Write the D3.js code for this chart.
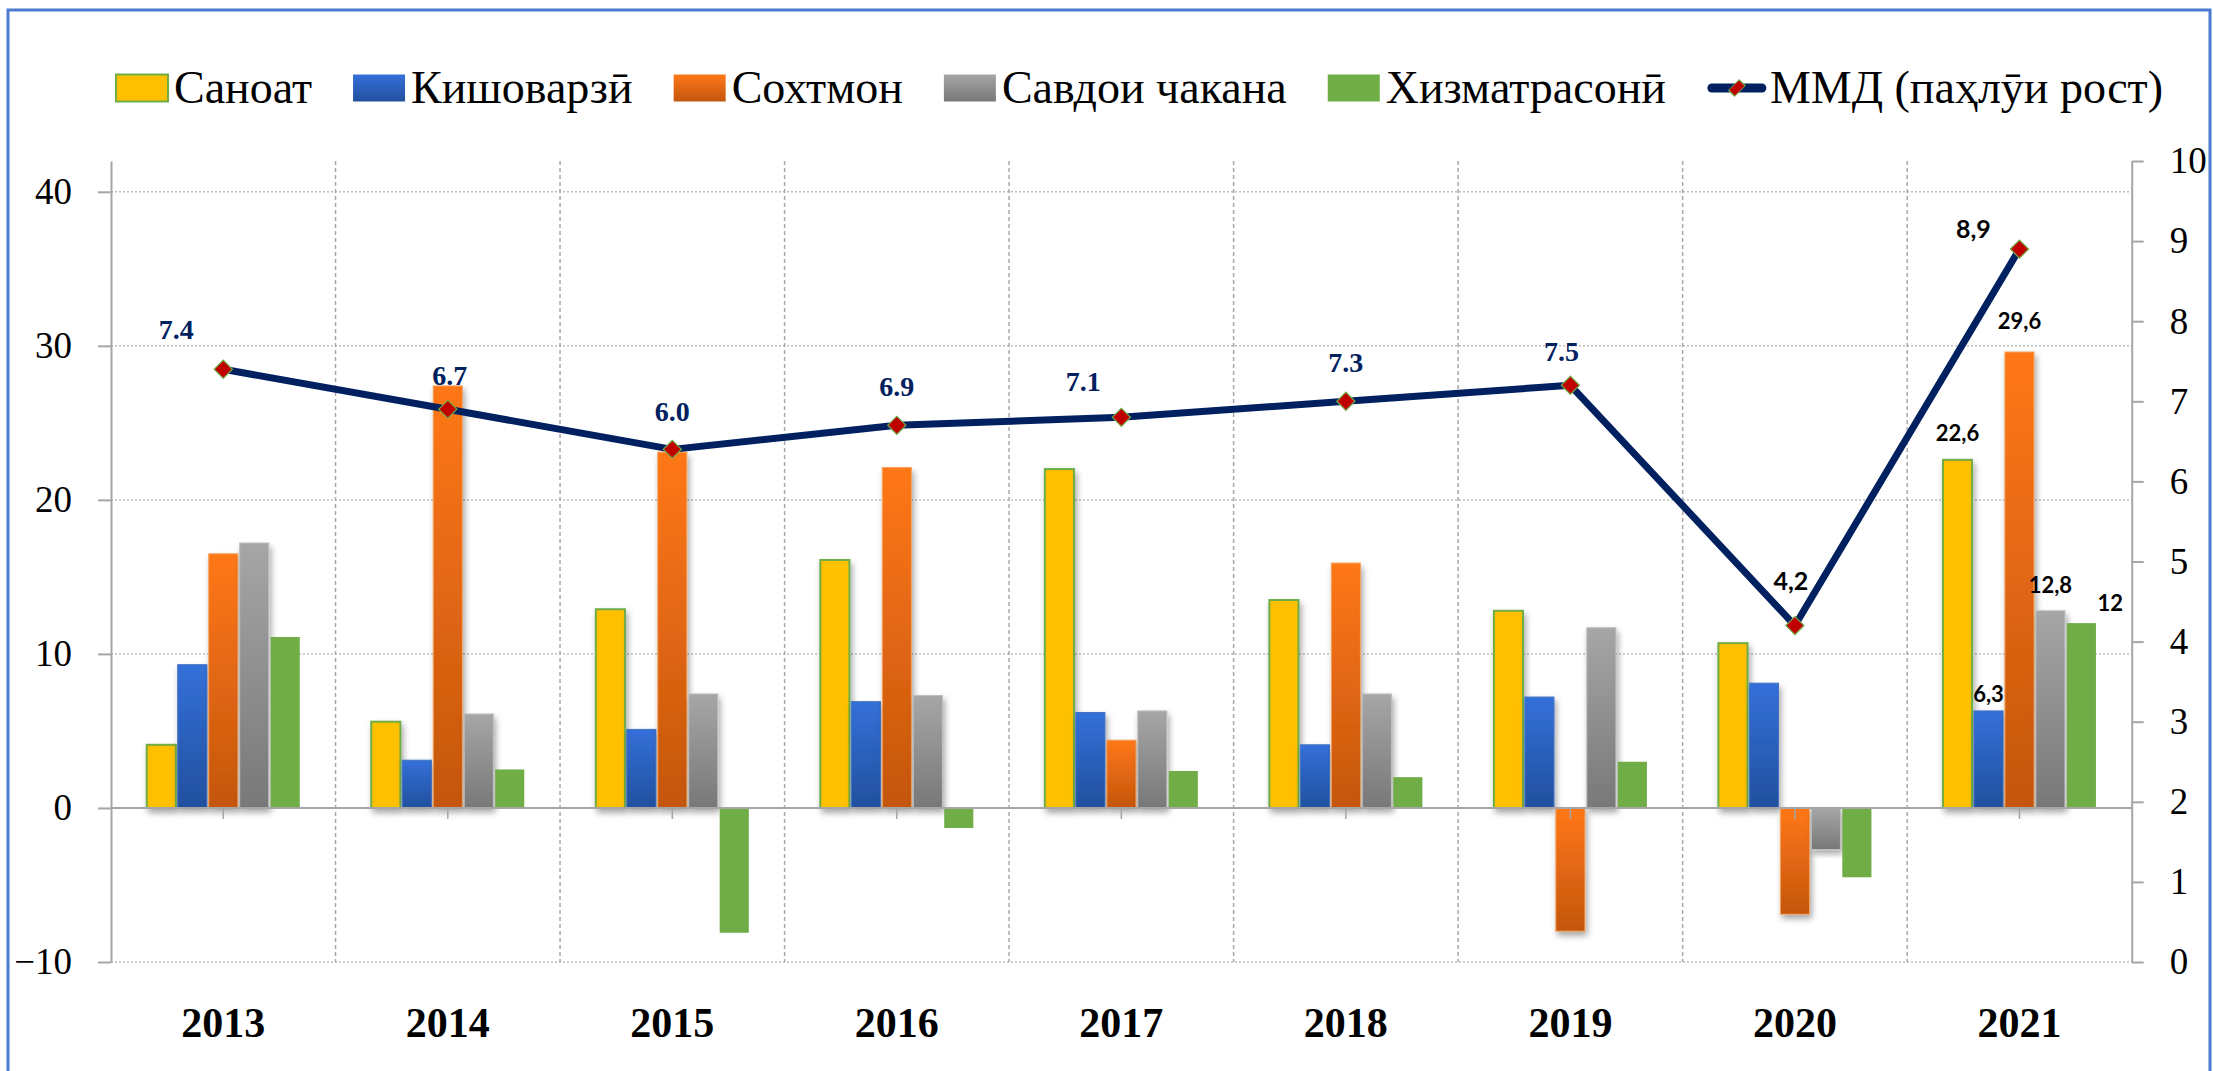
<!DOCTYPE html>
<html>
<head>
<meta charset="utf-8">
<script src="https://cdn.jsdelivr.net/npm/d3@7"></script>
<style>
  html, body { margin: 0; padding: 0; background: #fff; }
  svg { display: block; }
</style>
</head>
<body>
<div id="chart"></div>
<script>
// chart data
var years = ["2013", "2014", "2015", "2016", "2017", "2018", "2019", "2020", "2021"];
var seriesNames = ["Саноат", "Кишоварзӣ", "Сохтмон", "Савдои чакана", "Хизматрасонӣ"];
var industry     = [4.1, 5.6, 12.9, 16.1, 22.0, 13.5, 12.8, 10.7, 22.6];
var agriculture  = [9.3, 3.1, 5.1, 6.9, 6.2, 4.1, 7.2, 8.1, 6.3];
var construction = [16.5, 27.4, 23.1, 22.1, 4.4, 15.9, -8.0, -6.9, 29.6];
var retail       = [17.2, 6.1, 7.4, 7.3, 6.3, 7.4, 11.7, -2.7, 12.8];
var services     = [11.1, 2.5, -8.1, -1.3, 2.4, 2.0, 3.0, -4.5, 12.0];
var gdpName = "ММД (паҳлӯи рост)";
var gdp       = [7.4, 6.9, 6.4, 6.7, 6.8, 7.0, 7.2, 4.2, 8.9];
var gdpLabels = ["7.4", "6.7", "6.0", "6.9", "7.1", "7.3", "7.5", "4,2", "8,9"];
var lastYearLabels = ["22,6", "6,3", "29,6", "12,8", "12"];
var leftTicks = [-10, 0, 10, 20, 30, 40];
var rightTicks = [0, 1, 2, 3, 4, 5, 6, 7, 8, 9, 10];

var barSeries = [industry, agriculture, construction, retail, services];

// layout
var W = 2213, H = 1071;
var plotLeft = 111, plotRight = 2131.7, plotTop = 161, plotBottom = 962;
var groupWidth = 153;

// label nudges for the line (dx, dy from the marker), and for the 2021 bar labels
var gdpLabelNudge = [[-47, -40], [2, -34], [0, -38], [0, -39], [-38, -36], [0, -39], [-9, -34], [-4, -44], [-46, -20]];
var lastYearNudge = [[0, -27], [0, -17], [0, -31], [0, -25], [29, -20]];

var fills = ["#FFC000", "url(#gBlue)", "url(#gOrange)", "url(#gGray)", "#70AD47"];
var strokes = ["#70AD47", "#4472C4", "#F4A460", "#BFBFBF", "none"];

var svg = d3.select("#chart").append("svg")
    .attr("width", W)
    .attr("height", H);

var defs = svg.append("defs");

function addGradient(id, top, bottom) {
  var g = defs.append("linearGradient")
      .attr("id", id)
      .attr("x1", 0).attr("y1", 0)
      .attr("x2", 0).attr("y2", 1);
  g.append("stop").attr("offset", "0%").attr("stop-color", top);
  g.append("stop").attr("offset", "100%").attr("stop-color", bottom);
}
addGradient("gBlue", "#3370D9", "#22509E");
addGradient("gOrange", "#FF7719", "#C4560D");
addGradient("gGray", "#A6A6A6", "#787878");

var shadow = defs.append("filter")
    .attr("id", "shadow")
    .attr("x", "-30%").attr("y", "-10%")
    .attr("width", "170%").attr("height", "130%");
shadow.append("feDropShadow")
    .attr("dx", 2).attr("dy", 4)
    .attr("stdDeviation", 3)
    .attr("flood-color", "#000")
    .attr("flood-opacity", 0.35);

svg.append("rect")
    .attr("x", 0).attr("y", 0)
    .attr("width", W).attr("height", H)
    .attr("fill", "#fff");

// outer border
svg.append("rect")
    .attr("x", 8).attr("y", 10)
    .attr("width", 2202).attr("height", 1120)
    .attr("fill", "none")
    .attr("stroke", "#4A7BD0")
    .attr("stroke-width", 3);

var x0 = d3.scaleBand().domain(years).range([plotLeft, plotRight]).padding(0);
var x1 = d3.scaleBand().domain(d3.range(seriesNames.length)).range([0, groupWidth]).paddingInner(0.06);
var yLeft = d3.scaleLinear().domain([-10, 42]).range([plotBottom, plotTop]);
var yRight = d3.scaleLinear().domain([0, 10]).range([plotBottom, plotTop]);

var groupOffset = (x0.bandwidth() - groupWidth) / 2;
function center(yr) { return x0(yr) + x0.bandwidth() / 2; }

// horizontal grid
svg.append("g").selectAll("line")
    .data(leftTicks)
    .enter().append("line")
    .attr("x1", plotLeft).attr("x2", plotRight)
    .attr("y1", function(d) { return yLeft(d); })
    .attr("y2", function(d) { return yLeft(d); })
    .attr("stroke", "#BDBDBD")
    .attr("stroke-width", 1.5)
    .attr("stroke-dasharray", "2,2");

// vertical grid between categories
svg.append("g").selectAll("line")
    .data(years.slice(1))
    .enter().append("line")
    .attr("x1", function(d) { return x0(d); })
    .attr("x2", function(d) { return x0(d); })
    .attr("y1", plotTop).attr("y2", plotBottom)
    .attr("stroke", "#A8A8A8")
    .attr("stroke-width", 1.5)
    .attr("stroke-dasharray", "4,3");

// bars
var groups = svg.append("g").selectAll("g")
    .data(years)
    .enter().append("g")
    .attr("transform", function(d) { return "translate(" + (x0(d) + groupOffset) + ",0)"; });

groups.selectAll("rect")
    .data(function(d, i) {
      return barSeries.map(function(s, k) { return { k: k, v: s[i] }; });
    })
    .enter().append("rect")
    .attr("x", function(d) { return x1(d.k); })
    .attr("y", function(d) { return yLeft(Math.max(0, d.v)); })
    .attr("width", x1.bandwidth())
    .attr("height", function(d) { return Math.abs(yLeft(d.v) - yLeft(0)); })
    .attr("fill", function(d) { return fills[d.k]; })
    .attr("stroke", function(d) { return strokes[d.k]; })
    .attr("stroke-width", function(d) { return d.k == 0 ? 2 : 1; })
    .attr("filter", function(d) { return d.k == 4 ? null : "url(#shadow)"; });

// zero line (category axis)
svg.append("line")
    .attr("x1", plotLeft).attr("x2", plotRight)
    .attr("y1", yLeft(0)).attr("y2", yLeft(0))
    .attr("stroke", "#A6A6A6")
    .attr("stroke-width", 2);

svg.append("g").selectAll("line")
    .data(years)
    .enter().append("line")
    .attr("x1", center).attr("x2", center)
    .attr("y1", yLeft(0)).attr("y2", yLeft(0) + 11)
    .attr("stroke", "#A6A6A6")
    .attr("stroke-width", 1.5);

// axes
var leftAxis = svg.append("g")
    .attr("transform", "translate(" + plotLeft + ",0)")
    .call(d3.axisLeft(yLeft).tickValues(leftTicks).tickSize(13).tickSizeOuter(0).tickPadding(26));

var rightAxis = svg.append("g")
    .attr("transform", "translate(" + plotRight + ",0)")
    .call(d3.axisRight(yRight).tickValues(rightTicks).tickSize(12).tickSizeOuter(0).tickPadding(26));

[leftAxis, rightAxis].forEach(function(ax) {
  ax.select(".domain").attr("stroke", "#A6A6A6").attr("stroke-width", 2);
  ax.selectAll(".tick line").attr("stroke", "#A6A6A6").attr("stroke-width", 2);
  ax.selectAll(".tick text")
      .attr("font-family", "'Liberation Serif', serif")
      .attr("font-size", 37)
      .attr("fill", "#000");
});

// year labels
svg.append("g").selectAll("text")
    .data(years)
    .enter().append("text")
    .attr("x", center)
    .attr("y", 1037)
    .attr("text-anchor", "middle")
    .attr("font-family", "'Liberation Serif', serif")
    .attr("font-weight", "bold")
    .attr("font-size", 42)
    .text(function(d) { return d; });

// GDP line
var line = d3.line()
    .x(function(d, i) { return center(years[i]); })
    .y(function(d) { return yRight(d); });

svg.append("path")
    .datum(gdp)
    .attr("d", line)
    .attr("fill", "none")
    .attr("stroke", "#002060")
    .attr("stroke-width", 7)
    .attr("stroke-linejoin", "round");

var diamond = d3.symbol().type(d3.symbolSquare).size(165);

svg.append("g").selectAll("path")
    .data(gdp)
    .enter().append("path")
    .attr("d", diamond)
    .attr("transform", function(d, i) {
      return "translate(" + center(years[i]) + "," + yRight(d) + ") rotate(45)";
    })
    .attr("fill", "#C00000")
    .attr("stroke", "#70AD47")
    .attr("stroke-width", 1.2);

svg.append("g").selectAll("text")
    .data(gdp)
    .enter().append("text")
    .attr("x", function(d, i) { return center(years[i]) + gdpLabelNudge[i][0]; })
    .attr("y", function(d, i) { return yRight(d) + gdpLabelNudge[i][1]; })
    .attr("dy", "0.35em")
    .attr("text-anchor", "middle")
    .attr("font-weight", "bold")
    .attr("font-family", function(d, i) { return i < 7 ? "'Liberation Serif', serif" : "Lato, sans-serif"; })
    .attr("font-size", function(d, i) { return i < 7 ? 28 : 25; })
    .attr("fill", function(d, i) { return i < 7 ? "#002060" : "#000"; })
    .text(function(d, i) { return gdpLabels[i]; });

// 2021 bar labels
var lastIdx = years.length - 1;
svg.append("g").selectAll("text")
    .data(barSeries)
    .enter().append("text")
    .attr("x", function(s, k) { return x0(years[lastIdx]) + groupOffset + x1(k) + x1.bandwidth() / 2 + lastYearNudge[k][0]; })
    .attr("y", function(s, k) { return yLeft(s[lastIdx]) + lastYearNudge[k][1]; })
    .attr("dy", "0.35em")
    .attr("text-anchor", "middle")
    .attr("font-family", "Lato, sans-serif")
    .attr("font-weight", "bold")
    .attr("font-size", 22)
    .attr("fill", "#000")
    .text(function(s, k) { return lastYearLabels[k]; });

// legend
var legend = svg.append("g");
var lx = 116, ly = 88, swW = 52, swH = 27, gapText = 6, gapItem = 41;

seriesNames.forEach(function(name, k) {
  legend.append("rect")
      .attr("x", lx).attr("y", ly - swH / 2)
      .attr("width", swW).attr("height", swH)
      .attr("fill", fills[k])
      .attr("stroke", k == 0 ? "#70AD47" : "none")
      .attr("stroke-width", 2);
  var t = legend.append("text")
      .attr("x", lx + swW + gapText)
      .attr("y", ly + 15)
      .attr("font-family", "'Liberation Serif', serif")
      .attr("font-size", 46)
      .text(name);
  lx += swW + gapText + t.node().getComputedTextLength() + gapItem;
});

legend.append("line")
    .attr("x1", lx + 5).attr("x2", lx + 55)
    .attr("y1", ly).attr("y2", ly)
    .attr("stroke", "#002060")
    .attr("stroke-width", 9)
    .attr("stroke-linecap", "round");
legend.append("path")
    .attr("d", d3.symbol().type(d3.symbolSquare).size(130))
    .attr("transform", "translate(" + (lx + 30) + "," + ly + ") rotate(45) scale(0.75,1.3)")
    .attr("fill", "#C00000")
    .attr("stroke", "#70AD47")
    .attr("stroke-width", 1);
legend.append("text")
    .attr("x", lx + 63)
    .attr("y", ly + 15)
    .attr("font-family", "'Liberation Serif', serif")
    .attr("font-size", 46)
    .text(gdpName);
</script>
</body>
</html>
